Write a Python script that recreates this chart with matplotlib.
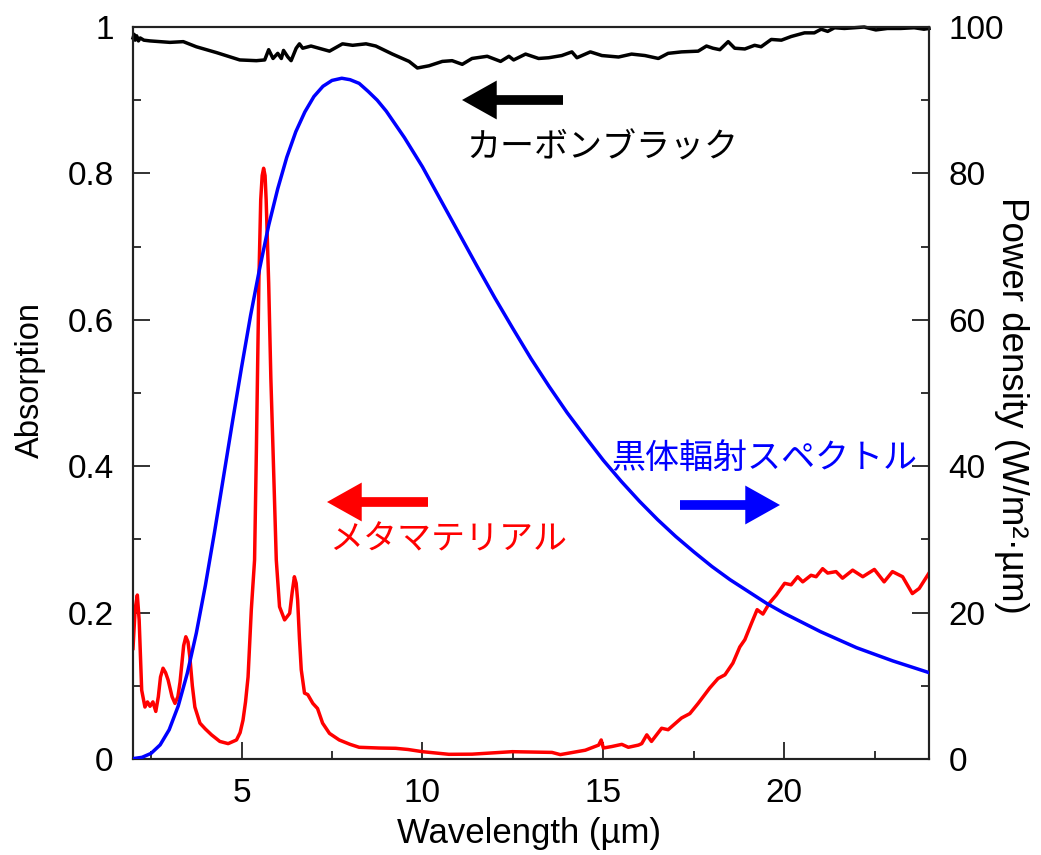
import matplotlib
matplotlib.use("Agg")
import matplotlib.pyplot as plt
from matplotlib.ticker import MultipleLocator

# ---------------- data ----------------
# Black: carbon black absorption (left axis)
cb_wl = [2.0, 2.03, 2.06, 2.1, 2.15, 2.2, 2.3, 2.47, 3.02, 3.39, 3.75, 4.31, 4.95, 5.41, 5.64,
         5.75, 5.87, 6.0, 6.10, 6.16, 6.28, 6.37, 6.51, 6.60, 6.69, 6.92, 7.43, 7.79, 8.07,
         8.44, 8.71, 9.17, 9.63, 9.86, 10.18, 10.55, 10.82, 11.10, 11.37, 11.79, 12.16, 12.39,
         12.52, 12.85, 13.21, 13.49, 13.85, 14.13, 14.27, 14.64, 14.96, 15.42, 15.78, 16.15,
         16.52, 16.79, 17.16, 17.62, 17.85, 18.03, 18.22, 18.45, 18.63, 18.91, 19.18, 19.36,
         19.64, 19.92, 20.19, 20.56, 20.83, 21.02, 21.20, 21.39, 21.66, 21.94, 22.21, 22.53,
         22.85, 23.22, 23.59, 23.86, 24.0]
cb_abs = [0.985, 0.990, 0.982, 0.988, 0.981, 0.985, 0.982, 0.981, 0.979, 0.980, 0.973, 0.965,
          0.955, 0.954, 0.955, 0.969, 0.957, 0.964, 0.957, 0.968, 0.959, 0.954, 0.971, 0.977,
          0.971, 0.974, 0.967, 0.977, 0.975, 0.977, 0.974, 0.963, 0.953, 0.944, 0.947, 0.953,
          0.954, 0.949, 0.957, 0.960, 0.953, 0.960, 0.955, 0.963, 0.957, 0.958, 0.961, 0.966,
          0.958, 0.966, 0.961, 0.959, 0.963, 0.961, 0.957, 0.964, 0.966, 0.967, 0.974, 0.971,
          0.969, 0.980, 0.971, 0.970, 0.975, 0.973, 0.983, 0.982, 0.987, 0.992, 0.992, 0.997,
          0.994, 0.999, 0.998, 0.999, 1.000, 0.996, 0.998, 0.998, 0.999, 0.997, 0.998]

# Red: metamaterial absorption (left axis)
mm_wl = [2.0, 2.06, 2.12, 2.17, 2.24, 2.33, 2.40, 2.47, 2.55, 2.63, 2.70, 2.76, 2.83, 2.90,
         2.97, 3.08, 3.16, 3.24, 3.30, 3.40, 3.46, 3.52, 3.57, 3.64, 3.71, 3.85, 4.0, 4.17,
         4.40, 4.63, 4.86, 4.96, 5.04, 5.11, 5.18, 5.27, 5.36, 5.41, 5.48, 5.53, 5.57, 5.61,
         5.65, 5.68, 5.75, 5.81, 5.87, 5.96, 6.05, 6.19, 6.33, 6.40, 6.46, 6.51, 6.55, 6.60,
         6.65, 6.74, 6.83, 6.97, 7.10, 7.24, 7.43, 7.70, 8.0, 8.25, 8.80, 9.26, 9.6, 10.0,
         10.73, 11.37, 12.48, 13.58, 13.81, 14.50, 14.87, 14.94, 15.0, 15.23, 15.51, 15.69,
         15.97, 16.06, 16.20, 16.33, 16.61, 16.79, 17.16, 17.39, 17.62, 17.94, 18.17, 18.36,
         18.58, 18.77, 18.91, 19.09, 19.25, 19.41, 19.59, 19.78, 20.01, 20.19, 20.37, 20.51,
         20.74, 20.88, 21.06, 21.20, 21.43, 21.61, 21.89, 22.17, 22.49, 22.76, 22.99, 23.27,
         23.54, 23.73, 24.0]
mm_abs = [0.151, 0.205, 0.224, 0.190, 0.094, 0.071, 0.078, 0.072, 0.078, 0.065, 0.085, 0.112,
          0.124, 0.118, 0.108, 0.085, 0.076, 0.085, 0.105, 0.155, 0.167, 0.160, 0.140, 0.100,
          0.071, 0.049, 0.041, 0.033, 0.024, 0.021, 0.026, 0.036, 0.053, 0.078, 0.112, 0.204,
          0.272, 0.422, 0.655, 0.764, 0.797, 0.807, 0.797, 0.764, 0.650, 0.520, 0.422, 0.272,
          0.208, 0.190, 0.199, 0.228, 0.249, 0.240, 0.217, 0.165, 0.122, 0.090, 0.088, 0.076,
          0.069, 0.049, 0.035, 0.026, 0.020, 0.016, 0.015, 0.0146, 0.013, 0.010, 0.0064,
          0.0066, 0.010, 0.009, 0.006, 0.012, 0.019, 0.026, 0.015, 0.017, 0.020, 0.016, 0.019,
          0.021, 0.033, 0.024, 0.042, 0.040, 0.056, 0.062, 0.076, 0.097, 0.110, 0.115, 0.131,
          0.153, 0.163, 0.185, 0.204, 0.198, 0.213, 0.224, 0.240, 0.238, 0.249, 0.242, 0.251,
          0.249, 0.260, 0.254, 0.256, 0.247, 0.258, 0.249, 0.259, 0.242, 0.256, 0.249, 0.226,
          0.233, 0.254]

# Blue: blackbody spectrum (right axis, W/m2/um)
bb_wl = [2.0, 2.25, 2.5, 2.75, 3.0, 3.25, 3.5, 3.75, 4.0, 4.25, 4.5, 4.75, 5.0, 5.25, 5.5,
         5.75, 6.0, 6.25, 6.5, 6.75, 7.0, 7.25, 7.5, 7.77, 8.0, 8.25, 8.5, 8.75, 9.0, 9.5,
         10.0, 10.5, 11.0, 11.5, 12.0, 12.5, 13.0, 13.5, 14.0, 14.5, 15.0, 15.5, 16.0, 16.5,
         17.0, 17.5, 18.0, 18.5, 19.0, 19.5, 20.0, 21.0, 22.0, 23.0, 24.0]
bb_pow = [0.05, 0.23, 0.77, 1.93, 4.0, 7.24, 11.7, 17.2, 23.7, 30.9, 38.5, 46.1, 53.5, 60.6,
          67.0, 72.9, 77.9, 82.2, 85.7, 88.4, 90.5, 91.9, 92.7, 93.0, 92.8, 92.3, 91.2, 90.0,
          88.5, 84.9, 80.9, 76.4, 71.9, 67.4, 63.0, 58.8, 54.7, 50.9, 47.3, 44.0, 40.8, 37.9,
          35.2, 32.7, 30.4, 28.3, 26.3, 24.5, 22.9, 21.3, 19.9, 17.4, 15.2, 13.4, 11.8]

x_ticks = [5, 10, 15, 20]
left_ticks = [0, 0.2, 0.4, 0.6, 0.8, 1]
left_labels = ["0", "0.2", "0.4", "0.6", "0.8", "1"]
right_ticks = [0, 20, 40, 60, 80, 100]

# ---------------- figure ----------------
W, H = 1041, 855
fig = plt.figure(figsize=(W / 100, H / 100), dpi=100)
plt.rcParams['font.family'] = ['Liberation Sans', 'DejaVu Sans']
jp = ['Noto Sans CJK JP', 'DejaVu Sans']

ax = fig.add_axes([133 / W, 1 - 759 / H, (929 - 133) / W, (759 - 27) / H])
ax2 = ax.twinx()

ax.plot(cb_wl, cb_abs, color='black', lw=2.5, clip_on=False, zorder=3,
        solid_joinstyle='round')
ax.plot(mm_wl, mm_abs, color='#ff0000', lw=2.5, zorder=3, solid_joinstyle='round')
ax2.plot(bb_wl, bb_pow, color='#0000ff', lw=2.5, zorder=3, solid_joinstyle='round')

ax.set_xlim(2, 24)
ax.set_ylim(0, 1)
ax2.set_ylim(0, 100)

ax.set_xticks(x_ticks)
ax.xaxis.set_minor_locator(MultipleLocator(2.5))
ax.set_yticks(left_ticks)
ax.set_yticklabels(left_labels)
ax.yaxis.set_minor_locator(MultipleLocator(0.1))
ax2.set_yticks(right_ticks)
ax2.yaxis.set_minor_locator(MultipleLocator(10))

for a in (ax, ax2):
    for s in a.spines.values():
        s.set_linewidth(1.5)
        s.set_color('#222222')
ax.tick_params(which='major', direction='in', length=12, width=1.3, labelsize=24, pad=14,
               color='#222222')
ax.tick_params(which='minor', direction='in', length=6, width=1.3, color='#222222')
ax.tick_params(axis='x', which='both', top=False)
ax2.tick_params(which='major', direction='in', length=12, width=1.3, labelsize=24, pad=14,
                color='#222222')
ax2.tick_params(which='minor', direction='in', length=6, width=1.3, color='#222222')


def fx(px):
    return px / W


def fy(py):
    return 1 - py / H


fig.text(fx(529), fy(833), "Wavelength (µm)", fontsize=25, ha='center', va='center')
fig.text(fx(30), fy(380), "Absorption", fontsize=23.5, ha='center', va='center', rotation=90)
fig.text(fx(1012), fy(405), "Power density (W/m²·µm)", fontsize=26.5, ha='center',
         va='center', rotation=270)

# annotations
fig.text(fx(466), fy(148), "カーボンブラック", fontsize=24.5, family=jp, ha='left',
         va='center', color='black')
fig.text(fx(329), fy(540), "メタマテリアル", fontsize=24.5, family=jp, ha='left', va='center',
         color='#ff0000')
fig.text(fx(611), fy(458), "黒体輻射スペクトル", fontsize=24.5, family=jp, ha='left',
         va='center', color='#0000ff')

astyle = 'simple,head_length=25,head_width=28,tail_width=7'
for (x0, x1, y, c) in [(563, 462, 100, 'black'), (428, 327, 502, '#ff0000'),
                       (680, 780, 505, '#0000ff')]:
    ax.annotate('', xy=(x1, H - y), xytext=(x0, H - y), xycoords='figure pixels',
                textcoords='figure pixels',
                arrowprops=dict(arrowstyle=astyle, color=c, shrinkA=0, shrinkB=0,
                                mutation_scale=1, lw=0))

fig.savefig('out.png', dpi=100)
